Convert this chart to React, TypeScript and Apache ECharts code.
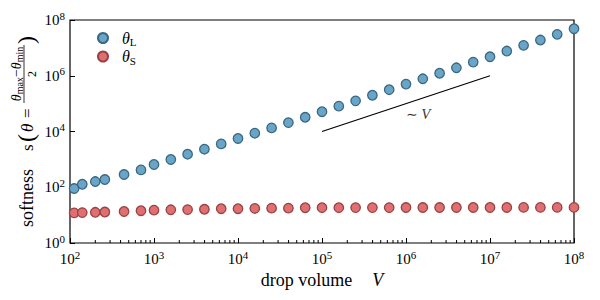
import React, { useEffect, useRef } from "react";
import * as echarts from "echarts";

const FONT = '"Liberation Serif", "DejaVu Serif", serif';

// drop volumes V
const volumes = [
  112, 140, 200, 260, 440, 700,
  1000, 1585, 2512, 3981, 6310,
  10000, 15850, 25120, 39810, 63100,
  100000, 158500, 251200, 398100, 631000,
  1000000, 1585000, 2512000, 3981000, 6310000,
  10000000, 15850000, 25120000, 39810000, 63100000,
  100000000,
];

// softness for theta_L
const thetaL = [
  90, 128, 160, 189, 286, 419,
  655, 991, 1535, 2323, 3597,
  5623, 8710, 13490, 20890, 32360,
  51290, 81280, 125900, 199500, 316200,
  501200, 776200, 1230000, 1928000, 3090000,
  4786000, 7674000, 12300000, 19050000, 30550000,
  48640000,
];

// softness for theta_S
const thetaS = [
  12, 12.3, 12.6, 12.9, 13.5, 14.4,
  15.1, 15.5, 15.8, 16.2, 17,
  17, 17.4, 17.8, 17.8, 18.4,
  18.5, 18.5, 18.6, 18.6, 18.6,
  18.7, 18.7, 18.7, 18.8, 18.8,
  18.8, 18.8, 18.9, 18.9, 18.9,
  18.9,
];

// guide line ~V
const guideX = [1e5, 1e7];
const guideY = [1e4, 1e6];
const guideLabelAt = [1.4e6, 4.1e4];

// axis ranges
const xRange = [1e2, 1e8];
const yRange = [1e0, 1e8];
const minorMultipliers = [2, 3, 4, 5, 6, 7, 8, 9];
const minorDecades = [2, 3, 4, 5, 6, 7];

const expLabel = (v: number) => {
  const e = Math.round(Math.log10(v));
  return `{b|10}{sup|${e}}`;
};

const tickRich = {
  b: { fontSize: 15, fontFamily: FONT, color: "#000" },
  sup: { fontSize: 11, fontFamily: FONT, color: "#000", padding: [0, 0, 9, 0] },
};

export default function App() {
  const ref = useRef<HTMLDivElement>(null);
  useEffect(() => {
    if (!ref.current) return;
    const chart = echarts.init(ref.current, undefined, { renderer: "svg" });
    const minorTicks: number[][] = [];
    minorDecades.forEach((d) =>
      minorMultipliers.forEach((m) => minorTicks.push([m * Math.pow(10, d), 1]))
    );

    const txt = (x: number, y: number, text: string, extra: any = {}) => ({
      type: "text",
      x,
      y,
      style: {
        text,
        fontSize: 17,
        fontFamily: FONT,
        fill: "#000",
        align: "left",
        verticalAlign: "middle",
        ...extra,
      },
    });

    chart.setOption({
      animation: false,
      backgroundColor: "#fff",
      grid: {
        left: 70,
        right: 26,
        top: 20,
        bottom: 57,
        show: true,
        borderColor: "#000",
        borderWidth: 1.2,
        backgroundColor: "transparent",
      },
      legend: {
        data: ["θL", "θS"],
        orient: "vertical",
        left: 92,
        top: 25,
        icon: "circle",
        itemWidth: 10,
        itemHeight: 10,
        itemGap: 1,
        formatter: (name: string) =>
          name === "θL" ? "{t|θ}{s|L}" : "{t|θ}{s|S}",
        textStyle: {
          rich: {
            t: {
              fontSize: 16,
              fontStyle: "italic",
              fontFamily: FONT,
              color: "#000",
              padding: [0, 0, 0, 9],
            },
            s: { fontSize: 11, fontFamily: FONT, color: "#000", padding: [8, 0, 0, 0] },
          },
        },
      },
      xAxis: {
        type: "log",
        logBase: 10,
        min: xRange[0],
        max: xRange[1],
        interval: 1,
        name: "{n|drop volume}{v|V}",
        nameLocation: "middle",
        nameGap: 16,
        nameTextStyle: {
          rich: {
            n: { fontSize: 18, fontFamily: FONT, color: "#000" },
            v: {
              fontSize: 18,
              fontFamily: FONT,
              fontStyle: "italic",
              color: "#000",
              padding: [0, 0, 0, 20],
            },
          },
        },
        axisLine: { show: false },
        axisTick: { show: true, inside: true, length: 5, lineStyle: { color: "#000", width: 1 } },
        axisLabel: { formatter: expLabel, margin: 6, rich: tickRich },
        splitLine: { show: false },
        minorTick: { show: false },
      },
      yAxis: {
        type: "log",
        logBase: 10,
        min: yRange[0],
        max: yRange[1],
        interval: 2,
        axisLine: { show: false },
        axisTick: { show: true, inside: true, length: 5, lineStyle: { color: "#000", width: 1 } },
        axisLabel: { formatter: expLabel, margin: 5, rich: tickRich },
        splitLine: { show: false },
      },
      graphic: [
        {
          type: "group",
          x: 27,
          y: 227,
          rotation: Math.PI / 2,
          children: [
            txt(0, 0, "softness", { fontSize: 18 }),
            txt(76, 0, "s"),
            txt(85, -1, "(", { fontSize: 24 }),
            txt(95, 0, "θ", { fontStyle: "italic" }),
            txt(109, 0, "="),
            {
              type: "line",
              shape: { x1: 124, y1: -3, x2: 182, y2: -3 },
              style: { stroke: "#000", lineWidth: 0.8 },
            },
            {
              type: "text",
              x: 153,
              y: -11,
              style: {
                text: "{t|θ}{b|max}{m|−}{t|θ}{b|min}",
                align: "center",
                verticalAlign: "middle",
                fill: "#000",
                fontFamily: FONT,
                rich: {
                  t: { fontSize: 14, fontStyle: "italic", fontFamily: FONT },
                  b: { fontSize: 10, fontFamily: FONT, padding: [6, 0, 0, 0] },
                  m: { fontSize: 14, fontFamily: FONT },
                },
              },
            },
            txt(153, 5, "2", { fontSize: 12, align: "center" }),
            txt(183, -1, ")", { fontSize: 24 }),
          ],
        },
      ],
      series: [
        {
          name: "θL",
          type: "scatter",
          data: volumes.map((v, i) => [v, thetaL[i]]),
          symbolSize: 9.5,
          itemStyle: { color: "#6aa4c6", borderColor: "#386884", borderWidth: 1.3, opacity: 1 },
          z: 4,
        },
        {
          name: "θS",
          type: "scatter",
          data: volumes.map((v, i) => [v, thetaS[i]]),
          symbolSize: 9.5,
          itemStyle: { color: "#df6f71", borderColor: "#974244", borderWidth: 1.3, opacity: 1 },
          z: 4,
        },
        {
          name: "guide",
          type: "line",
          data: guideX.map((x, i) => [x, guideY[i]]),
          showSymbol: false,
          symbol: "none",
          lineStyle: { color: "#000", width: 1.2 },
          silent: true,
          z: 3,
        },
        {
          name: "guideLabel",
          type: "scatter",
          data: [guideLabelAt],
          symbolSize: 0,
          silent: true,
          label: {
            show: true,
            position: "inside",
            formatter: "{a|∼ }{v|V}",
            rich: {
              a: { fontSize: 14, fontFamily: FONT, color: "#000" },
              v: { fontSize: 15, fontFamily: FONT, fontStyle: "italic", color: "#000" },
            },
          },
        },
        {
          name: "minorTicks",
          type: "custom",
          silent: true,
          clip: false,
          data: minorTicks,
          encode: { x: 0, y: 1 },
          renderItem: (params: any, api: any) => {
            const p = api.coord([api.value(0), yRange[0]]);
            return {
              type: "line",
              shape: { x1: p[0], y1: p[1], x2: p[0], y2: p[1] - 3 },
              style: { stroke: "#000", lineWidth: 1 },
            };
          },
          z: 5,
        },
      ],
    });
    return () => chart.dispose();
  }, []);
  return (
    <div
      ref={ref}
      style={{ position: "fixed", left: 0, top: 0, width: 600, height: 300 }}
    />
  );
}
